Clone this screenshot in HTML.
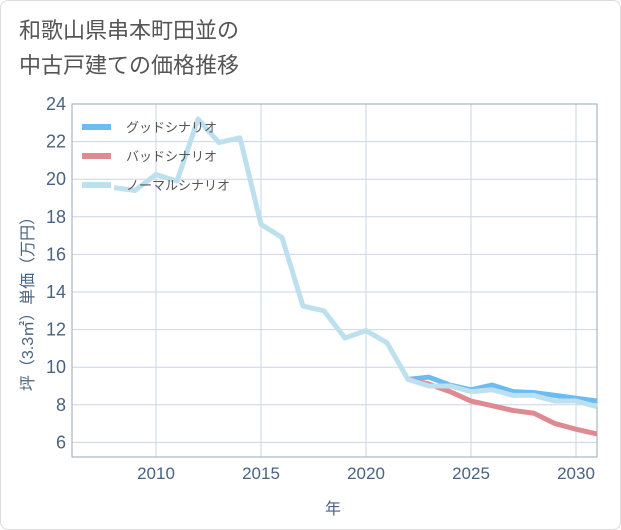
<!DOCTYPE html>
<html><head><meta charset="utf-8"><style>
body{margin:0;background:#fff;font-family:"Liberation Sans","Noto Sans CJK JP",sans-serif}
#wrap{position:relative;width:619px;height:528px;border:1px solid #ddd;border-radius:8px;overflow:hidden}
#title{position:absolute;left:18px;top:12px;font-size:22px;line-height:35px;color:#555}
</style></head><body>
<div id="wrap">
<div id="title">和歌山県串本町田並の<br>中古戸建ての価格推移</div>
<svg id="chart" width="621" height="530" style="position:absolute;left:-1px;top:-1px"></svg>
</div>
<script>
const years=[2008,2009,2010,2011,2012,2013,2014,2015,2016,2017,2018,2019,2020,2021,2022,2023,2024,2025,2026,2027,2028,2029,2030,2031];
const normal=[19.55,19.4,20.25,19.9,23.2,21.95,22.2,17.6,16.9,13.25,13.0,11.55,11.95,11.3,9.35,9.0,9.0,8.7,8.8,8.5,8.5,8.2,8.2,7.9];
const goodYears=[2022,2023,2024,2025,2026,2027,2028,2029,2030,2031];
const good=[9.35,9.47,9.05,8.8,9.05,8.7,8.65,8.5,8.35,8.2];
const bad=[9.35,9.1,8.7,8.2,7.95,7.7,7.55,7.0,6.7,6.45];
const yTicks=[6,8,10,12,14,16,18,20,22,24];
const xTicks=[2010,2015,2020,2025,2030];
const L=72,R=597,T=104,B=457,x0=2006,x1=2031,yTop=24,yPerPx=18.8;
const X=v=>L+(v-x0)*(R-L)/(x1-x0);
const Y=v=>T+(yTop-v)*yPerPx;
const svg=document.getElementById('chart');const NS='http://www.w3.org/2000/svg';
function mk(t,a,p){const e=document.createElementNS(NS,t);for(const k in a)e.setAttribute(k,a[k]);(p||svg).appendChild(e);return e;}
for(const t of yTicks){const g=mk('line',{x1:L,x2:R,y1:Y(t),y2:Y(t),stroke:'#c9d6e3','stroke-width':1});

const tx=mk('text',{x:L-6,y:Y(t)+6,'text-anchor':'end','font-size':18,fill:'#4a6380'});tx.textContent=t;
}
for(const t of xTicks){const g=mk('line',{x1:X(t),x2:X(t),y1:T,y2:B,stroke:'#c9d6e3','stroke-width':1});

const tx=mk('text',{x:X(t),y:B+22,'text-anchor':'middle','font-size':17,fill:'#4a6380'});tx.textContent=t;
}
const ax=mk('rect',{x:L,y:T,width:R-L,height:B-T,fill:'none',stroke:'#9aa8b5','stroke-width':1});

function line(xs,ys,c,name){const p=mk('polyline',{points:xs.map((v,i)=>X(v)+','+Y(ys[i])).join(' '),fill:'none',stroke:c,'stroke-width':5,'stroke-linejoin':'round'});
}
line(goodYears,good,'#6bbcf2','good-scenario-line');
line(goodYears,bad,'#dd8a90','bad-scenario-line');
line(years,normal,'#bde0ef','normal-scenario-line');
const leg=[['グッドシナリオ','#6bbcf2'],['バッドシナリオ','#dd8a90'],['ノーマルシナリオ','#bde0ef']];
leg.forEach((l,i)=>{const y=127+i*29;
const s=mk('line',{x1:82,x2:111,y1:y,y2:y,stroke:l[1],'stroke-width':6});

const t=mk('text',{x:126,y:y+5,'font-size':13,fill:'#555'});t.textContent=l[0];
});
const yt=mk('text',{x:0,y:0,'font-size':16,fill:'#4a6380','text-anchor':'middle',transform:'translate(33,300) rotate(-90)'});yt.textContent='坪（3.3㎡）単価（万円）';

const xt=mk('text',{x:333,y:514,'font-size':16,fill:'#4a6380','text-anchor':'middle'});xt.textContent='年';

</script>
</body></html>
